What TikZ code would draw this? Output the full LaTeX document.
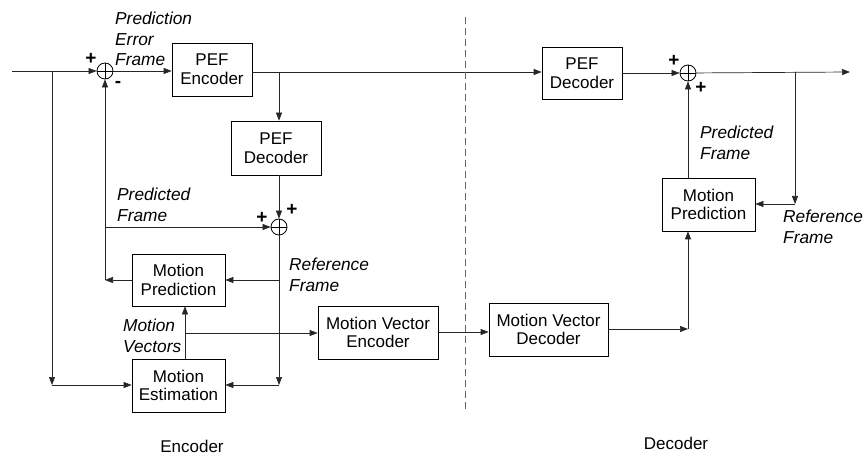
\documentclass[tikz,border=0pt]{standalone}
\usepackage{fontspec}
\setmainfont{Liberation Sans}
\usetikzlibrary{arrows.meta}
\begin{document}
\begin{tikzpicture}[x=1pt,y=-1pt,
  box/.style={draw=black, line width=0.7pt, inner sep=0pt, align=center,
              font=\fontsize{17}{18.8}\selectfont},
  sumnode/.style={circle, draw=black, line width=0.8pt, minimum size=16pt, inner sep=0pt,
              path picture={\draw[line width=0.8pt] (path picture bounding box.north) -- (path picture bounding box.south)
                 (path picture bounding box.west) -- (path picture bounding box.east);}},
  lbl/.style={inner sep=0pt, align=left, anchor=north west, font=\fontsize{17.3}{20.5}\selectfont\itshape},
  sgn/.style={inner sep=0pt, font=\fontsize{19}{19}\selectfont\bfseries},
  ln/.style={draw=black!85, line width=0.7pt},
  arr/.style={ln, -{Triangle[length=8pt,width=6pt]}}
]
\useasboundingbox (0,0) rectangle (865,457);

% nodes
\node[sumnode] (s1) at (105,71) {};
\node[sumnode] (s2) at (279,227) {};
\node[sumnode] (s3) at (688,73) {};
\node[box, minimum width=80pt, minimum height=53pt] (pefenc) at (212,69.5) {PEF\\Encoder};
\node[box, minimum width=90pt, minimum height=54pt] (pefdec1) at (276,148) {PEF\\Decoder};
\node[box, minimum width=93pt, minimum height=52pt] (mp1) at (178.5,280) {Motion\\Prediction};
\node[box, minimum width=93pt, minimum height=53pt] (me) at (178.5,385.5) {Motion\\Estimation};
\node[box, minimum width=120pt, minimum height=53pt] (mve) at (378,332.5) {Motion Vector\\Encoder};
\node[box, minimum width=119pt, minimum height=53pt] (mvd) at (548.5,329.5) {Motion Vector\\Decoder};
\node[box, minimum width=80pt, minimum height=52pt] (pefdec2) at (582,73) {PEF\\Decoder};
\node[box, minimum width=93pt, minimum height=53pt] (mp2) at (708.5,204.5) {Motion\\Prediction};

% coordinates
\coordinate (in) at (12,71);
\coordinate (j1) at (52,71);
\coordinate (j2) at (52,385);
\coordinate (j3) at (279,72);
\coordinate (j4) at (279,385);
\coordinate (j5) at (279,280);
\coordinate (j6) at (105,280);
\coordinate (j7) at (105,227);
\coordinate (j8) at (185,333);
\coordinate (j9) at (688,329);
\coordinate (j10) at (795,72);
\coordinate (j11) at (795,204);
\coordinate (out) at (850,72);

% connectors
\draw[arr] (in) -- (s1);
\draw[arr] (j1) -- (j2);
\draw[arr] (j2) -- (me.west |- j2);
\draw[arr] (s1) -- (pefenc.west |- s1);
\draw[arr] (pefenc.east |- j3) -- (pefdec2.west |- j3);
\draw[arr] (j3) -- (j3 |- pefdec1.north);
\draw[arr] (j3 |- pefdec1.south) -- (s2);
\draw[arr] (s2) -- (j4);
\draw[arr] (j4) -- (me.east |- j4);
\draw[arr] (j5) -- (mp1.east |- j5);
\draw[arr] (mp1.west |- j6) -- (j6);
\draw[arr] (j6) -- (s1);
\draw[arr] (j7) -- (s2);
\draw[arr] (j8 |- me.north) -- (j8 |- mp1.south);
\draw[arr] (j8) -- (mve.west |- j8);
\draw[arr] (mve.east |- 0,332) -- (mvd.west |- 0,332);
\draw[arr] (mvd.east |- j9) -- (j9);
\draw[arr] (j9) -- (j9 |- mp2.south);
\draw[arr] (j9 |- mp2.north) -- (s3);
\draw[arr] (pefdec2.east |- s3) -- (s3);
\draw[arr] (s3) -- (out);
\draw[arr] (j10) -- (j11);
\draw[arr] (j11) -- (mp2.east |- j11);

% dashed separator
\draw[draw=black!60, line width=0.7pt, dash pattern=on 7pt off 4pt] (465,17) -- (465,410);

% labels
\node[lbl] (l1) at (115,12) {Prediction\\Error\\Frame};
\node[lbl] (l2) at (117,188) {Predicted\\Frame};
\node[lbl] (l3) at (289,258) {Reference\\Frame};
\node[lbl] (l4) at (123,319) {Motion\\Vectors};
\node[lbl] (l5) at (700,126) {Predicted\\Frame};
\node[lbl] (l6) at (783,210) {Reference\\Frame};
\node[inner sep=0pt, anchor=base, font=\fontsize{17}{18}\selectfont] (enc) at (192,452) {Encoder};
\node[inner sep=0pt, anchor=base, font=\fontsize{17}{18}\selectfont] (dec) at (676,449) {Decoder};

% signs
\node[sgn] at (91,59) {+};
\node[sgn] at (118,84) {-};
\node[sgn] at (262,218) {+};
\node[sgn] at (292,210) {+};
\node[sgn] at (674,61) {+};
\node[sgn] at (701,88) {+};
\end{tikzpicture}
\end{document}
